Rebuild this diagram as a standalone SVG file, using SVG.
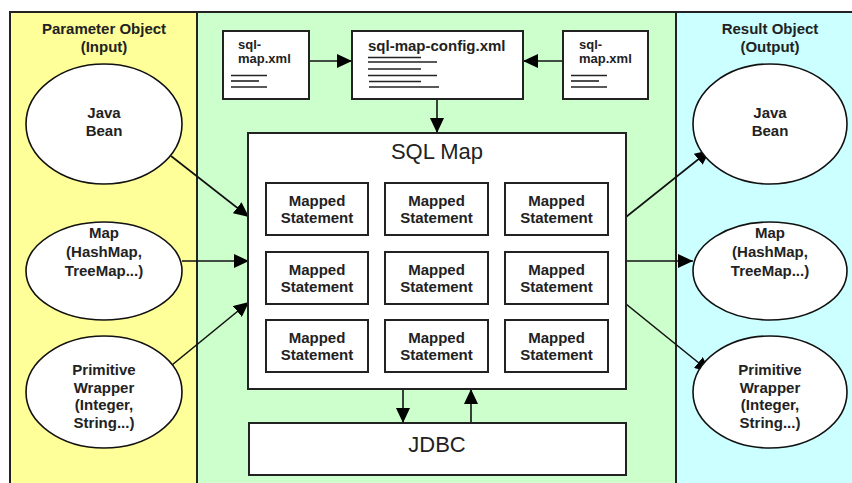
<svg xmlns="http://www.w3.org/2000/svg" width="852" height="483" viewBox="0 0 852 483">
  <defs>
    <marker id="arrow" markerUnits="userSpaceOnUse" markerWidth="16" markerHeight="14" refX="15" refY="7" orient="auto">
      <path d="M0,0 L15,7 L0,14 Z" fill="#000"/>
    </marker>
    <style>
      .panel { stroke: #222; stroke-width: 2; }
      .box { fill: #fff; stroke: #222; stroke-width: 2; }
      .ell { fill: #fff; stroke: #111; stroke-width: 1.6; }
      .lbl { font-family: "Liberation Sans", Arial, sans-serif; font-weight: bold; font-size: 15px; fill: #222; text-anchor: middle; }
      .doc { font-family: "Liberation Sans", Arial, sans-serif; font-weight: bold; font-size: 13px; fill: #222; }
      .big { font-family: "Liberation Sans", Arial, sans-serif; font-size: 22px; fill: #222; text-anchor: middle; }
      .rule { stroke: #222; stroke-width: 1.6; }
      .conn { stroke: #111; stroke-width: 1.6; fill: none; marker-end: url(#arrow); }
    </style>
  </defs>

  <rect width="852" height="483" fill="#fff"/>

  <!-- background panels -->
  <g id="panels">
    <rect class="panel" x="10" y="12" width="187" height="480" fill="#FFFF99"/>
    <rect class="panel" x="197" y="12" width="479" height="480" fill="#CCFFCC"/>
    <rect class="panel" x="676" y="12" width="180" height="480" fill="#CCFFFF"/>
  </g>

  <g id="input-title">
    <text class="lbl" x="104" y="34">Parameter Object</text>
    <text class="lbl" x="104" y="52">(Input)</text>
  </g>
  <g id="output-title">
    <text class="lbl" x="770" y="34">Result Object</text>
    <text class="lbl" x="770" y="52">(Output)</text>
  </g>

  <!-- connectors -->
  <g id="connectors">
    <line class="conn" x1="309" y1="61" x2="352" y2="61"/>
    <line class="conn" x1="563" y1="61" x2="523" y2="61"/>
    <line class="conn" x1="437" y1="99" x2="437" y2="133"/>
    <line class="conn" x1="171" y1="156" x2="249" y2="217"/>
    <line class="conn" x1="182" y1="261" x2="249" y2="261"/>
    <line class="conn" x1="172" y1="365" x2="249" y2="302"/>
    <line class="conn" x1="626" y1="217" x2="710" y2="150"/>
    <line class="conn" x1="626" y1="261" x2="693" y2="261"/>
    <line class="conn" x1="626" y1="304" x2="710" y2="372"/>
    <line class="conn" x1="403" y1="389" x2="403" y2="423"/>
    <line class="conn" x1="471" y1="423" x2="471" y2="389"/>
  </g>

  <!-- input objects -->
  <g id="in-javabean">
    <ellipse class="ell" cx="104" cy="124" rx="78" ry="60"/>
    <text class="lbl" x="104" y="118">Java</text>
    <text class="lbl" x="104" y="136">Bean</text>
  </g>
  <g id="in-map">
    <ellipse class="ell" cx="104" cy="271" rx="78" ry="49"/>
    <text class="lbl" x="104" y="238">Map</text>
    <text class="lbl" x="104" y="257">(HashMap,</text>
    <text class="lbl" x="104" y="276">TreeMap...)</text>
  </g>
  <g id="in-primitive">
    <ellipse class="ell" cx="104" cy="392" rx="78" ry="56"/>
    <text class="lbl" x="104" y="375">Primitive</text>
    <text class="lbl" x="104" y="393">Wrapper</text>
    <text class="lbl" x="104" y="410">(Integer,</text>
    <text class="lbl" x="104" y="428">String...)</text>
  </g>

  <!-- output objects -->
  <g id="out-javabean">
    <ellipse class="ell" cx="770" cy="124" rx="77" ry="60"/>
    <text class="lbl" x="770" y="118">Java</text>
    <text class="lbl" x="770" y="136">Bean</text>
  </g>
  <g id="out-map">
    <ellipse class="ell" cx="770" cy="271" rx="77" ry="49"/>
    <text class="lbl" x="770" y="238">Map</text>
    <text class="lbl" x="770" y="257">(HashMap,</text>
    <text class="lbl" x="770" y="276">TreeMap...)</text>
  </g>
  <g id="out-primitive">
    <ellipse class="ell" cx="770" cy="392" rx="77" ry="56"/>
    <text class="lbl" x="770" y="375">Primitive</text>
    <text class="lbl" x="770" y="393">Wrapper</text>
    <text class="lbl" x="770" y="410">(Integer,</text>
    <text class="lbl" x="770" y="428">String...)</text>
  </g>

  <!-- configuration documents -->
  <g id="sqlmap-left">
    <rect class="box" x="223" y="31" width="86" height="68"/>
    <text class="doc" x="238" y="49">sql-</text>
    <text class="doc" x="238" y="63">map.xml</text>
    <line class="rule" x1="231" y1="75.5" x2="267" y2="75.5"/>
    <line class="rule" x1="231" y1="81" x2="259" y2="81"/>
    <line class="rule" x1="231" y1="87" x2="267" y2="87"/>
  </g>
  <g id="sqlmap-config">
    <rect class="box" x="352" y="31" width="171" height="68"/>
    <text class="doc" x="368" y="51" style="font-size:15px">sql-map-config.xml</text>
    <line class="rule" x1="368" y1="57.5" x2="421" y2="57.5"/>
    <line class="rule" x1="368" y1="62" x2="437" y2="62"/>
    <line class="rule" x1="368" y1="69" x2="421" y2="69"/>
    <line class="rule" x1="368" y1="75.5" x2="437" y2="75.5"/>
    <line class="rule" x1="369" y1="81.5" x2="421" y2="81.5"/>
    <line class="rule" x1="369" y1="87" x2="439" y2="87"/>
  </g>
  <g id="sqlmap-right">
    <rect class="box" x="563" y="31" width="85" height="68"/>
    <text class="doc" x="579" y="49">sql-</text>
    <text class="doc" x="579" y="63">map.xml</text>
    <line class="rule" x1="571" y1="75.5" x2="607" y2="75.5"/>
    <line class="rule" x1="571" y1="81" x2="599" y2="81"/>
    <line class="rule" x1="571" y1="87" x2="607" y2="87"/>
  </g>

  <!-- SQL Map container -->
  <g id="sql-map">
    <rect class="box" x="248" y="133" width="378" height="256"/>
    <text class="big" x="437" y="159">SQL Map</text>
  </g>

  <g id="ms-1-1"><rect class="box" x="266" y="183" width="102" height="52"/><text class="lbl" x="317" y="206">Mapped</text><text class="lbl" x="317" y="223">Statement</text></g>
  <g id="ms-1-2"><rect class="box" x="385" y="183" width="103" height="52"/><text class="lbl" x="436.5" y="206">Mapped</text><text class="lbl" x="436.5" y="223">Statement</text></g>
  <g id="ms-1-3"><rect class="box" x="505" y="183" width="103" height="52"/><text class="lbl" x="556.5" y="206">Mapped</text><text class="lbl" x="556.5" y="223">Statement</text></g>
  <g id="ms-2-1"><rect class="box" x="266" y="252" width="102" height="52"/><text class="lbl" x="317" y="275">Mapped</text><text class="lbl" x="317" y="292">Statement</text></g>
  <g id="ms-2-2"><rect class="box" x="385" y="252" width="103" height="52"/><text class="lbl" x="436.5" y="275">Mapped</text><text class="lbl" x="436.5" y="292">Statement</text></g>
  <g id="ms-2-3"><rect class="box" x="505" y="252" width="103" height="52"/><text class="lbl" x="556.5" y="275">Mapped</text><text class="lbl" x="556.5" y="292">Statement</text></g>
  <g id="ms-3-1"><rect class="box" x="266" y="320" width="102" height="52"/><text class="lbl" x="317" y="343">Mapped</text><text class="lbl" x="317" y="360">Statement</text></g>
  <g id="ms-3-2"><rect class="box" x="385" y="320" width="103" height="52"/><text class="lbl" x="436.5" y="343">Mapped</text><text class="lbl" x="436.5" y="360">Statement</text></g>
  <g id="ms-3-3"><rect class="box" x="505" y="320" width="103" height="52"/><text class="lbl" x="556.5" y="343">Mapped</text><text class="lbl" x="556.5" y="360">Statement</text></g>

  <g id="jdbc">
    <rect class="box" x="249" y="423" width="377" height="52"/>
    <text class="big" x="437" y="452">JDBC</text>
  </g>
</svg>
